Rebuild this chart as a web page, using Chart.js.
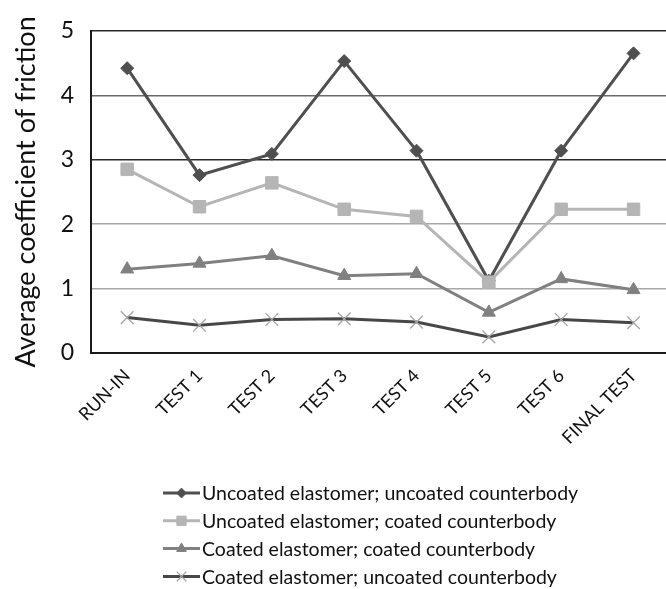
<!DOCTYPE html>
<html>
<head>
<meta charset="utf-8">
<script src="https://cdn.jsdelivr.net/npm/chart.js@4.4.1/dist/chart.umd.min.js"></script>
<style>
  html, body { margin: 0; padding: 0; background: #fff; overflow: hidden; }
  #wrap { width: 680px; height: 589px; position: relative; }
</style>
</head>
<body>
<div id="wrap"><canvas id="c"></canvas></div>
<script>
// Test stages along the x axis
const stages = ['RUN-IN', 'TEST 1', 'TEST 2', 'TEST 3', 'TEST 4', 'TEST 5', 'TEST 6', 'FINAL TEST'];

// Average coefficient of friction per stage
const uncoatedElastomerUncoatedBody = [4.42, 2.76, 3.09, 4.53, 3.14, 1.12, 3.14, 4.65];
const uncoatedElastomerCoatedBody   = [2.85, 2.27, 2.64, 2.23, 2.12, 1.10, 2.23, 2.23];
const coatedElastomerCoatedBody     = [1.30, 1.39, 1.51, 1.20, 1.23, 0.63, 1.15, 0.98];
const coatedElastomerUncoatedBody   = [0.55, 0.43, 0.52, 0.53, 0.48, 0.25, 0.52, 0.47];

const seriesNames = [
  'Uncoated elastomer; uncoated counterbody',
  'Uncoated elastomer; coated counterbody',
  'Coated elastomer; coated counterbody',
  'Coated elastomer; uncoated counterbody'
];

const yMin = 0, yMax = 5, yStep = 1;

const FONT = 'Lato, "Open Sans", sans-serif';

// Horizontal grid line shades by value
function gridShade(v) {
  if (v === 5 || v === 3) return '#2a2a2a';
  if (v === 4) return '#6a6a6a';
  if (v === 0) return '#1a1a1a';
  return '#a8a8a8';
}

// Vertical legend list: line segment with the series marker, then the name
const lineLegend = {
  id: 'lineLegend',
  afterDraw(chart, args, opts) {
    const ctx = chart.ctx;
    ctx.save();
    chart.data.datasets.forEach((ds, i) => {
      const y = opts.top + i * opts.rowGap;
      ctx.strokeStyle = ds.borderColor;
      ctx.lineWidth = ds.borderWidth;
      ctx.beginPath();
      ctx.moveTo(opts.left, y);
      ctx.lineTo(opts.left + opts.lineLen, y);
      ctx.stroke();
      ctx.fillStyle = ds.pointBackgroundColor;
      ctx.strokeStyle = ds.pointBorderColor;
      ctx.lineWidth = ds.pointBorderWidth;
      Chart.helpers.drawPoint(ctx, {
        pointStyle: ds.pointStyle,
        radius: ds.pointRadius * 0.75,
        rotation: 0,
        borderWidth: ds.pointBorderWidth
      }, opts.left + opts.lineLen / 2, y);
      ctx.fillStyle = '#111';
      ctx.font = opts.font;
      ctx.textBaseline = 'middle';
      ctx.textAlign = 'left';
      ctx.fillText(ds.label, opts.left + opts.lineLen + 2, y + 1);
    });
    ctx.restore();
  }
};

function series(i, data, color, style, radius, markerColor, markerBorderWidth, order) {
  return {
    label: seriesNames[i],
    data: data,
    borderColor: color,
    borderWidth: 3,
    backgroundColor: color,
    pointStyle: style,
    pointRadius: radius,
    pointHoverRadius: radius,
    pointBackgroundColor: markerColor,
    pointBorderColor: markerColor,
    pointBorderWidth: markerBorderWidth,
    tension: 0,
    order: order
  };
}

new Chart(document.getElementById('c'), {
  type: 'line',
  data: {
    labels: stages,
    datasets: [
      series(0, uncoatedElastomerUncoatedBody, '#4f4f4f', 'rectRot', 6.5, '#4f4f4f', 1, 4),
      series(1, uncoatedElastomerCoatedBody, '#b5b5b5', 'rect', 8.8, '#b5b5b5', 1, 3),
      series(2, coatedElastomerCoatedBody, '#808080', 'triangle', 7.5, '#808080', 1, 2),
      series(3, coatedElastomerUncoatedBody, '#474747', 'crossRot', 9, '#a5a5a5', 1.3, 1)
    ]
  },
  options: {
    responsive: true,
    maintainAspectRatio: false,
    animation: false,
    events: [],
    layout: { padding: { top: 17, right: 1, bottom: 116, left: 0 } },
    plugins: {
      legend: { display: false },
      tooltip: { enabled: false },
      lineLegend: { left: 163, lineLen: 37, top: 493, rowGap: 27.8, font: '19.5px ' + FONT }
    },
    scales: {
      x: {
        offset: true,
        grid: { display: false, drawTicks: false },
        border: { display: true, color: '#1a1a1a', width: 2 },
        ticks: {
          color: '#111',
          font: { family: FONT, size: 18 },
          minRotation: 45,
          maxRotation: 45,
          padding: 12
        },
        afterFit(scale) { scale.height = 120; }
      },
      y: {
        min: yMin,
        max: yMax,
        grid: {
          drawTicks: false,
          color: (c) => gridShade(c.tick.value),
          lineWidth: (c) => (c.tick.value === 5 || c.tick.value === 3) ? 1.6 : 1.4
        },
        border: { display: true, color: '#1a1a1a', width: 2 },
        ticks: {
          stepSize: yStep,
          color: '#111',
          font: { family: FONT, size: 23 },
          padding: 17
        },
        title: {
          display: true,
          text: 'Average coefficient of friction',
          color: '#111',
          font: { family: FONT, size: 27 },
          padding: { top: 10, bottom: 0 }
        },
        afterFit(scale) { scale.width = 91; }
      }
    }
  },
  plugins: [lineLegend]
});
</script>
</body>
</html>
